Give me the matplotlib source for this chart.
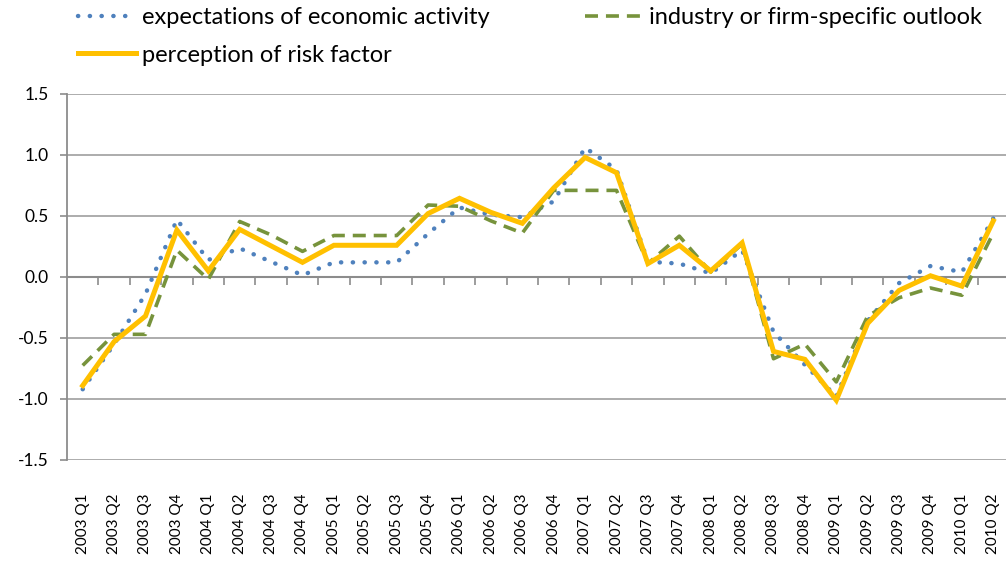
import matplotlib
matplotlib.use("Agg")
import matplotlib.pyplot as plt
import numpy as np

plt.rcParams['font.family'] = ['Lato', 'DejaVu Sans']

quarters = [f"{y} Q{q}" for y in range(2003, 2011) for q in range(1, 5)][:30]

economic = [-0.92, -0.55, -0.14, 0.47, 0.14, 0.235, 0.125, 0.015, 0.12, 0.12,
            0.12, 0.355, 0.57, 0.51, 0.49, 0.62, 1.06, 0.88, 0.125, 0.11,
            0.03, 0.22, -0.45, -0.72, -0.98, -0.36, -0.05, 0.09, 0.04, 0.48]
industry = [-0.725, -0.47, -0.47, 0.22, -0.02, 0.455, 0.345, 0.21, 0.34, 0.34,
            0.34, 0.59, 0.58, 0.46, 0.36, 0.71, 0.71, 0.71, 0.11, 0.335,
            0.04, 0.27, -0.67, -0.55, -0.86, -0.32, -0.17, -0.09, -0.15, 0.36]
risk = [-0.89, -0.53, -0.32, 0.385, 0.05, 0.39, 0.255, 0.12, 0.26, 0.26,
        0.26, 0.52, 0.645, 0.53, 0.44, 0.73, 0.98, 0.855, 0.11, 0.26,
        0.05, 0.28, -0.61, -0.675, -1.01, -0.38, -0.11, 0.01, -0.075, 0.46]

yticks = [-1.5, -1.0, -0.5, 0.0, 0.5, 1.0, 1.5]

grey = '#8c8c8c'

fig = plt.figure(figsize=(10.06, 5.61), dpi=100)
ax = fig.add_axes([67/1006, 1-460/561, 942/1006, 366/561])

x = np.arange(len(quarters))

l1, = ax.plot(x, economic, color='#4F81BD', lw=3.2, linestyle=(0, (0.05, 2.6)),
              dash_capstyle='round', solid_capstyle='round', zorder=3,
              label='expectations of economic activity')
l2, = ax.plot(x, industry, color='#77933C', lw=2.6, linestyle=(0, (3.6, 2.2)),
              dash_capstyle='butt', zorder=4, label='industry or firm-specific outlook')
l3, = ax.plot(x, risk, color='#FFC000', lw=3.6, solid_joinstyle='miter', zorder=5,
              label='perception of risk factor')

ax.set_xlim(-0.5, len(quarters) - 0.5)
ax.set_ylim(-1.5, 1.5)
ax.set_yticks(yticks)
ax.set_yticklabels([f"{v:.1f}" for v in yticks], fontsize=12.5)
ax.set_xticks(x)
ax.set_xticklabels(quarters, rotation=90, fontsize=11)
ax.tick_params(axis='x', length=0, pad=24)
ax.tick_params(axis='y', length=5, width=1.2, color=grey, pad=8)

ax.grid(axis='y', color='#a6a6a6', lw=1.3)
ax.set_axisbelow(True)
for s in ['top', 'right', 'bottom']:
    ax.spines[s].set_visible(False)
ax.spines['left'].set_color(grey)
ax.spines['left'].set_linewidth(1.3)

# category axis crossing at zero
ax.axhline(0, color=grey, lw=1.5, zorder=2)
bounds = np.arange(0.5, len(quarters) - 0.5, 1.0)
ax.plot(bounds, np.zeros_like(bounds), ls='none', marker=3, ms=6, mew=1.2,
        color=grey, zorder=2, clip_on=False)

leg_kw = dict(loc='upper left', frameon=False, fontsize=17, handlelength=2.45,
              handletextpad=0.25, labelspacing=0.7, borderpad=0, borderaxespad=0)
fig.legend(handles=[l1, l3], bbox_to_anchor=(78/1006, 1 - 7/561), **leg_kw)
fig.legend(handles=[l2], bbox_to_anchor=(585/1006, 1 - 7/561), **leg_kw)

fig.savefig('out.png', dpi=100)
